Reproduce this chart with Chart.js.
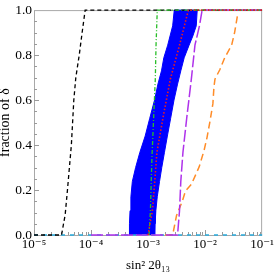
<!DOCTYPE html>
<html>
<head>
<meta charset="utf-8">
<script src="https://cdn.jsdelivr.net/npm/chart.js@4/dist/chart.umd.min.js"></script>
<style>
  html, body { margin: 0; padding: 0; background: #fff; }
  #wrap { width: 276px; height: 272px; }
</style>
</head>
<body>
<div id="wrap"><canvas id="fracDelta"></canvas></div>
<script>
// sin^2 2theta13 values, paired with fraction of delta
const blackX = [1e-5, 3.04e-5, 3.52e-5, 3.86e-5, 4.52e-5, 4.99e-5, 5.41e-5, 6.21e-5, 6.98e-5, 7.89e-5, 1e-1];
const blackF = [0, 0, 0.09, 0.2, 0.4, 0.6, 0.7, 0.8, 0.9, 1, 1];

// blue band: up the left edge, then down the right edge
const bandX = [4.65e-4, 4.72e-4, 4.83e-4, 5.0e-4, 5.30e-4, 6.05e-4, 7.19e-4, 8.9e-4, 1.07e-3, 1.30e-3, 1.49e-3,
               1.72e-3, 1.89e-3, 2.21e-3, 2.70e-3, 2.88e-3,
               7.28e-3, 7.00e-3, 6.1e-3, 5.24e-3, 4.30e-3, 3.75e-3, 3.29e-3, 2.85e-3, 2.49e-3, 2.18e-3,
               1.94e-3, 1.74e-3, 1.59e-3, 1.45e-3, 1.37e-3, 1.33e-3, 1.32e-3];
const bandF = [0, 0.05, 0.108, 0.17, 0.238, 0.30, 0.368, 0.44, 0.519, 0.60, 0.671,
               0.73, 0.788, 0.844, 0.93, 1,
               1, 0.93, 0.885, 0.844, 0.788, 0.73, 0.671, 0.60, 0.519, 0.44,
               0.368, 0.30, 0.238, 0.17, 0.108, 0.05, 0];

const redX = [1.0e-3, 1.19e-3, 1.31e-3, 1.43e-3, 1.82e-3, 2.46e-3, 3.56e-3, 5.09e-3, 1e-1];
const redF = [0, 0.108, 0.238, 0.368, 0.519, 0.693, 0.844, 1, 1];

const greenX = [1.04e-3, 1.10e-3, 1.17e-3, 1.34e-3, 1.38e-3, 1.45e-3, 1e-1];
const greenF = [0, 0.108, 0.346, 0.693, 0.844, 1, 1];

const purpleX = [1e-4, 3.29e-3, 3.56e-3, 3.75e-3, 4.09e-3, 4.76e-3, 5.74e-3, 6.64e-3, 7.98e-3, 8.87e-3, 1e-1];
const purpleF = [0, 0, 0.108, 0.238, 0.368, 0.519, 0.693, 0.844, 0.931, 1, 1];

const orangeX = [2.0e-3, 2.70e-3, 3.16e-3, 4.01e-3, 4.52e-3, 5.74e-3, 7.88e-3, 9.62e-3, 1.08e-2, 1.22e-2,
                 1.37e-2, 1.43e-2, 1.49e-2, 1.82e-2, 2.21e-2, 2.92e-2, 3.29e-2, 3.71e-2];
const orangeF = [0, 0, 0.087, 0.152, 0.195, 0.225, 0.303, 0.377, 0.433, 0.506,
                 0.584, 0.658, 0.693, 0.736, 0.788, 0.844, 0.9, 0.978];

const cyanX = [1e-5, 1e-1];
const cyanF = [0, 0];

const xTicks = [1e-5, 1e-4, 1e-3, 1e-2, 1e-1];
const xTickLabels = ["10\u207B\u2075", "10\u207B\u2074", "10\u207B\u00B3", "10\u207B\u00B2", "10\u207B\u00B9"];

const pts = (xs, fs) => xs.map((x, i) => ({ x: x, y: fs[i] }));
const SERIF = "'Liberation Serif', 'DejaVu Serif', serif";

// frame box plus inward ticks, like the original plot
const frameTicks = {
  id: "frameTicks",
  beforeDatasetsDraw(chart) {
    const { ctx, chartArea: a, scales } = chart;
    const xs = scales.x, ys = scales.y;
    ctx.save();
    ctx.strokeStyle = "#a8a8a8";
    ctx.lineWidth = 1;
    ctx.strokeRect(a.left + 0.5, a.top + 0.5, a.right - a.left - 1, a.bottom - a.top);
    ctx.strokeStyle = "#9a9a9a";
    ctx.beginPath();
    for (let d = -5; d < -1; d++) {
      for (let m = 1; m <= 9; m++) {
        const px = Math.round(xs.getPixelForValue(m * Math.pow(10, d))) + 0.5;
        const len = m === 1 ? 5 : 3;
        ctx.moveTo(px, a.bottom);
        ctx.lineTo(px, a.bottom - len);
      }
    }
    for (let k = 1; k < 20; k++) {
      const py = Math.round(ys.getPixelForValue(k * 0.05)) + 0.5;
      const len = k % 4 === 0 ? 5 : 3;
      ctx.moveTo(a.left, py);
      ctx.lineTo(a.left + len, py);
    }
    ctx.stroke();
    ctx.restore();
  }
};

function curve(data, color, dash, width, order) {
  return {
    data: data,
    borderColor: color,
    borderDash: dash,
    borderWidth: width,
    pointRadius: 0,
    fill: false,
    tension: 0,
    clip: 3,
    order: order
  };
}

new Chart(document.getElementById("fracDelta"), {
  type: "line",
  data: {
    datasets: [
      {
        data: pts(bandX, bandF),
        borderColor: "#0000ff",
        backgroundColor: "#0000ff",
        borderWidth: 1,
        pointRadius: 0,
        tension: 0,
        fill: "shape",
        clip: 3,
        order: 10
      },
      curve(pts(cyanX, cyanF), "rgb(40,170,220)", [4, 5], 1.4, 8),
      curve(pts(blackX, blackF), "#000000", [4, 3], 1.3, 6),
      curve(pts(orangeX, orangeF), "rgb(255,140,40)", [7, 4], 1.5, 5),
      curve(pts(purpleX, purpleF), "rgb(175,50,235)", [12, 3], 1.5, 4),
      curve(pts(greenX, greenF), "rgb(40,190,40)", [4, 2, 1, 2], 1.3, 3),
      curve(pts(redX, redF), "rgb(235,30,30)", [1.5, 2], 1.6, 2)
    ]
  },
  options: {
    responsive: true,
    maintainAspectRatio: false,
    animation: false,
    events: [],
    layout: { padding: { top: 4, right: 10, left: 0, bottom: 0 } },
    plugins: {
      legend: { display: false },
      tooltip: { enabled: false }
    },
    scales: {
      x: {
        type: "logarithmic",
        min: 1e-5,
        max: 1e-1,
        grid: { display: false, drawTicks: false },
        border: { display: false },
        afterBuildTicks: (scale) => { scale.ticks = xTicks.map(v => ({ value: v, major: true })); },
        afterFit: (scale) => { scale.height = 37; },
        ticks: {
          autoSkip: false,
          maxRotation: 0,
          padding: 2,
          color: "#000",
          font: { family: SERIF, size: 13 },
          callback: (v, i) => xTickLabels[i]
        },
        title: {
          display: true,
          text: "sin\u00B2 2\u03B8\u2081\u2083",
          color: "#000",
          font: { family: SERIF, size: 13, lineHeight: 1 },
          padding: { top: 0, bottom: 0 }
        }
      },
      y: {
        type: "linear",
        min: 0,
        max: 1,
        grid: { display: false, drawTicks: false },
        border: { display: false },
        afterFit: (scale) => { scale.width = 34; },
        ticks: {
          stepSize: 0.2,
          padding: 2,
          color: "#000",
          font: { family: SERIF, size: 13.5 },
          callback: (v) => v.toFixed(1)
        },
        title: {
          display: true,
          text: "fraction of \u03B4",
          color: "#000",
          font: { family: SERIF, size: 14, lineHeight: 0.7 },
          padding: { top: 0, bottom: 0 }
        }
      }
    }
  },
  plugins: [frameTicks]
});
</script>
</body>
</html>
